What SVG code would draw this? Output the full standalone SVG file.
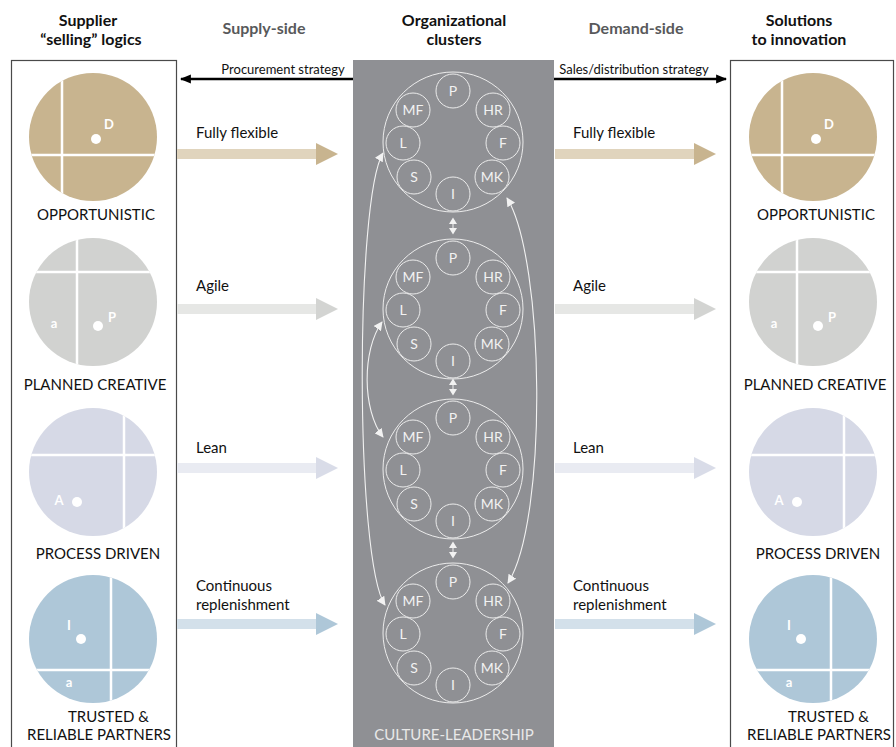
<svg xmlns="http://www.w3.org/2000/svg" width="896" height="747" viewBox="0 0 896 747">
  <style>
    text { font-family: Lato, "Liberation Sans", sans-serif; }
    .hd { font-size: 16px; font-weight: bold; fill: #111; text-anchor: middle; }
    .hd2 { font-size: 16px; font-weight: bold; fill: #58595b; text-anchor: middle; }
    .small { font-size: 13px; fill: #111; }
    .lbl { font-size: 15px; fill: #111; text-anchor: middle; }
    .lbls { font-size: 15px; fill: #111; }
    .flow { font-size: 15px; fill: #111; }
    .q { font-size: 13px; font-weight: bold; fill: #fff; text-anchor: middle; }
    .frame { fill: none; stroke: #4a4a4a; stroke-width: 1.2; }
    .div { stroke: #fff; stroke-width: 2.5; }
    .unit { fill: none; stroke: #ececec; stroke-width: 1; }
    .ut { font-size: 14px; fill: #f2f2f2; text-anchor: middle; }
    .link { fill: none; stroke: #f2f2f2; stroke-width: 1.1; }
  </style>
  <defs>
    <clipPath id="disc"><circle cx="0" cy="0" r="64"/></clipPath>
    <marker id="wh" viewBox="0 0 10 10" refX="9" refY="5" markerWidth="9" markerHeight="9" markerUnits="userSpaceOnUse" orient="auto-start-reverse">
      <path d="M0,0 L10,5 L0,10 Z" fill="#f2f2f2"/>
    </marker>
    <marker id="bk" viewBox="0 0 10 10" refX="9" refY="5" markerWidth="11" markerHeight="11" markerUnits="userSpaceOnUse" orient="auto">
      <path d="M0,1 L10,5 L0,9 Z" fill="#000"/>
    </marker>
    <!-- one organizational cluster: eight functional units round a shared ring -->
    <g id="cluster">
      <circle class="unit" cx="0" cy="0" r="70"/>
      <circle class="unit" cx="0" cy="-51" r="17"/><text class="ut" x="0" y="-46">P</text>
      <circle class="unit" cx="-40" cy="-32" r="17"/><text class="ut" x="-40" y="-27">MF</text>
      <circle class="unit" cx="40" cy="-32" r="17"/><text class="ut" x="40" y="-27">HR</text>
      <circle class="unit" cx="-50" cy="1" r="17"/><text class="ut" x="-50" y="6">L</text>
      <circle class="unit" cx="50" cy="1" r="17"/><text class="ut" x="50" y="6">F</text>
      <circle class="unit" cx="-39" cy="35" r="17"/><text class="ut" x="-39" y="40">S</text>
      <circle class="unit" cx="39" cy="35" r="17"/><text class="ut" x="39" y="40">MK</text>
      <circle class="unit" cx="0" cy="52" r="17"/><text class="ut" x="0" y="57">I</text>
    </g>
    <g id="updown">
      <path d="M0,-8.5 L4,-2 L-4,-2 Z M0,8.5 L4,2 L-4,2 Z" fill="#f2f2f2"/>
      <line x1="0" y1="-2" x2="0" y2="2" stroke="#f2f2f2" stroke-width="1"/>
    </g>
  </defs>

  <rect width="896" height="747" fill="#fff"/>

  <!-- column headings -->
  <g id="headings">
    <text class="hd" x="88" y="26">Supplier</text>
    <text class="hd" x="91" y="45">“selling” logics</text>
    <text class="hd2" x="264" y="34">Supply-side</text>
    <text class="hd" x="454" y="26">Organizational</text>
    <text class="hd" x="454" y="45">clusters</text>
    <text class="hd2" x="636" y="34">Demand-side</text>
    <text class="hd" x="799" y="26">Solutions</text>
    <text class="hd" x="799" y="45">to innovation</text>
  </g>

  <!-- side frames -->
  <rect class="frame" x="11.5" y="60.5" width="165" height="700"/>
  <rect class="frame" x="730.5" y="60.5" width="163" height="700"/>

  <!-- central column -->
  <g id="clusters">
    <rect x="353" y="60" width="201" height="690" fill="#8f9094"/>
    <use href="#cluster" x="453" y="142"/>
    <use href="#cluster" x="453" y="309"/>
    <use href="#cluster" x="453" y="469"/>
    <use href="#cluster" x="453" y="633"/>
    <use href="#updown" x="453" y="226"/>
    <use href="#updown" x="453" y="387"/>
    <use href="#updown" x="453" y="550"/>
    <text x="454" y="740" font-size="15" fill="#e8e8e8" text-anchor="middle">CULTURE-LEADERSHIP</text>
  </g>

  <!-- supplier logics -->
  <g id="s-opportunistic">
    <g transform="translate(93,137)">
      <circle r="64" fill="#c8b48f"/>
      <g clip-path="url(#disc)">
        <line class="div" x1="-31" y1="-70" x2="-31" y2="70"/>
        <line class="div" x1="-70" y1="18" x2="70" y2="18"/>
      </g>
      <circle cx="3" cy="2" r="5" fill="#fff"/>
      <text class="q" x="16" y="-8">D</text>
    </g>
    <text class="lbl" x="96" y="220">OPPORTUNISTIC</text>
  </g>
  <g id="s-planned">
    <g transform="translate(93,302)">
      <circle r="64" fill="#d1d2d0"/>
      <g clip-path="url(#disc)">
        <line class="div" x1="-16" y1="-70" x2="-16" y2="70"/>
        <line class="div" x1="-70" y1="-30" x2="70" y2="-30"/>
      </g>
      <circle cx="5" cy="24" r="5" fill="#fff"/>
      <text class="q" x="19" y="20">P</text>
      <text class="q" x="-39" y="26">a</text>
    </g>
    <text class="lbl" x="95" y="390">PLANNED CREATIVE</text>
  </g>
  <g id="s-process">
    <g transform="translate(93,472)">
      <circle r="64" fill="#d6d9e6"/>
      <g clip-path="url(#disc)">
        <line class="div" x1="31" y1="-70" x2="31" y2="70"/>
        <line class="div" x1="-70" y1="-17" x2="70" y2="-17"/>
      </g>
      <circle cx="-16" cy="30" r="5" fill="#fff"/>
      <text class="q" x="-34" y="33">A</text>
    </g>
    <text class="lbl" x="98" y="559">PROCESS DRIVEN</text>
  </g>
  <g id="s-trusted">
    <g transform="translate(93,639)">
      <circle r="64" fill="#aec7d8"/>
      <g clip-path="url(#disc)">
        <line class="div" x1="18" y1="-70" x2="18" y2="70"/>
        <line class="div" x1="-70" y1="31" x2="70" y2="31"/>
      </g>
      <circle cx="-12" cy="0" r="5" fill="#fff"/>
      <text class="q" x="-24" y="-9">I</text>
      <text class="q" x="-24" y="48">a</text>
    </g>
    <text class="lbls" x="68" y="722">TRUSTED &amp;</text>
    <text class="lbls" x="27" y="740">RELIABLE PARTNERS</text>
  </g>

  <!-- solutions to innovation -->
  <g id="d-opportunistic">
    <g transform="translate(813,137)">
      <circle r="64" fill="#c8b48f"/>
      <g clip-path="url(#disc)">
        <line class="div" x1="-31" y1="-70" x2="-31" y2="70"/>
        <line class="div" x1="-70" y1="18" x2="70" y2="18"/>
      </g>
      <circle cx="3" cy="2" r="5" fill="#fff"/>
      <text class="q" x="16" y="-8">D</text>
    </g>
    <text class="lbl" x="816" y="220">OPPORTUNISTIC</text>
  </g>
  <g id="d-planned">
    <g transform="translate(813,302)">
      <circle r="64" fill="#d1d2d0"/>
      <g clip-path="url(#disc)">
        <line class="div" x1="-16" y1="-70" x2="-16" y2="70"/>
        <line class="div" x1="-70" y1="-30" x2="70" y2="-30"/>
      </g>
      <circle cx="5" cy="24" r="5" fill="#fff"/>
      <text class="q" x="19" y="20">P</text>
      <text class="q" x="-39" y="26">a</text>
    </g>
    <text class="lbl" x="815" y="390">PLANNED CREATIVE</text>
  </g>
  <g id="d-process">
    <g transform="translate(813,472)">
      <circle r="64" fill="#d6d9e6"/>
      <g clip-path="url(#disc)">
        <line class="div" x1="31" y1="-70" x2="31" y2="70"/>
        <line class="div" x1="-70" y1="-17" x2="70" y2="-17"/>
      </g>
      <circle cx="-16" cy="30" r="5" fill="#fff"/>
      <text class="q" x="-34" y="33">A</text>
    </g>
    <text class="lbl" x="818" y="559">PROCESS DRIVEN</text>
  </g>
  <g id="d-trusted">
    <g transform="translate(813,639)">
      <circle r="64" fill="#aec7d8"/>
      <g clip-path="url(#disc)">
        <line class="div" x1="18" y1="-70" x2="18" y2="70"/>
        <line class="div" x1="-70" y1="31" x2="70" y2="31"/>
      </g>
      <circle cx="-12" cy="0" r="5" fill="#fff"/>
      <text class="q" x="-24" y="-9">I</text>
      <text class="q" x="-24" y="48">a</text>
    </g>
    <text class="lbls" x="788" y="722">TRUSTED &amp;</text>
    <text class="lbls" x="747" y="740">RELIABLE PARTNERS</text>
  </g>

  <!-- connectors -->
  <g id="connectors">
    <!-- strategy arrows -->
    <line x1="353" y1="79" x2="181" y2="79" stroke="#000" stroke-width="2.5" marker-end="url(#bk)"/>
    <text class="small" x="283" y="74" text-anchor="middle">Procurement strategy</text>
    <line x1="554" y1="79" x2="726" y2="79" stroke="#000" stroke-width="2.5" marker-end="url(#bk)"/>
    <text class="small" x="634" y="74" text-anchor="middle">Sales/distribution strategy</text>

    <!-- supply-side flows -->
    <rect x="177" y="149" width="140" height="10" fill="#e0d4bd"/>
    <path d="M316,143 L338,154 L316,165 Z" fill="#c8b48f"/>
    <text class="flow" x="196" y="138">Fully flexible</text>
    <rect x="177" y="304" width="140" height="10" fill="#e6e7e5"/>
    <path d="M316,298 L338,309 L316,320 Z" fill="#d3d4d2"/>
    <text class="flow" x="196" y="291">Agile</text>
    <rect x="177" y="463" width="140" height="10" fill="#e9ebf2"/>
    <path d="M316,457 L338,468 L316,479 Z" fill="#d9dce8"/>
    <text class="flow" x="196" y="453">Lean</text>
    <rect x="177" y="619" width="140" height="10" fill="#d3e0ea"/>
    <path d="M316,613 L338,624 L316,635 Z" fill="#aec7d8"/>
    <text class="flow" x="196" y="591">Continuous</text>
    <text class="flow" x="196" y="610">replenishment</text>

    <!-- demand-side flows -->
    <rect x="555" y="149" width="140" height="10" fill="#e0d4bd"/>
    <path d="M694,143 L716,154 L694,165 Z" fill="#c8b48f"/>
    <text class="flow" x="573" y="138">Fully flexible</text>
    <rect x="555" y="304" width="140" height="10" fill="#e6e7e5"/>
    <path d="M694,298 L716,309 L694,320 Z" fill="#d3d4d2"/>
    <text class="flow" x="573" y="291">Agile</text>
    <rect x="555" y="463" width="140" height="10" fill="#e9ebf2"/>
    <path d="M694,457 L716,468 L694,479 Z" fill="#d9dce8"/>
    <text class="flow" x="573" y="453">Lean</text>
    <rect x="555" y="619" width="140" height="10" fill="#d3e0ea"/>
    <path d="M694,613 L716,624 L694,635 Z" fill="#aec7d8"/>
    <text class="flow" x="573" y="591">Continuous</text>
    <text class="flow" x="573" y="610">replenishment</text>

    <!-- links between clusters -->
    <path class="link" d="M383,153 C355,200 355,560 385,605" marker-start="url(#wh)" marker-end="url(#wh)"/>
    <path class="link" d="M382,322 C362,350 362,410 383,437" marker-start="url(#wh)" marker-end="url(#wh)"/>
    <path class="link" d="M507,198 C545,260 548,520 508,583" marker-start="url(#wh)" marker-end="url(#wh)"/>
  </g>
</svg>
